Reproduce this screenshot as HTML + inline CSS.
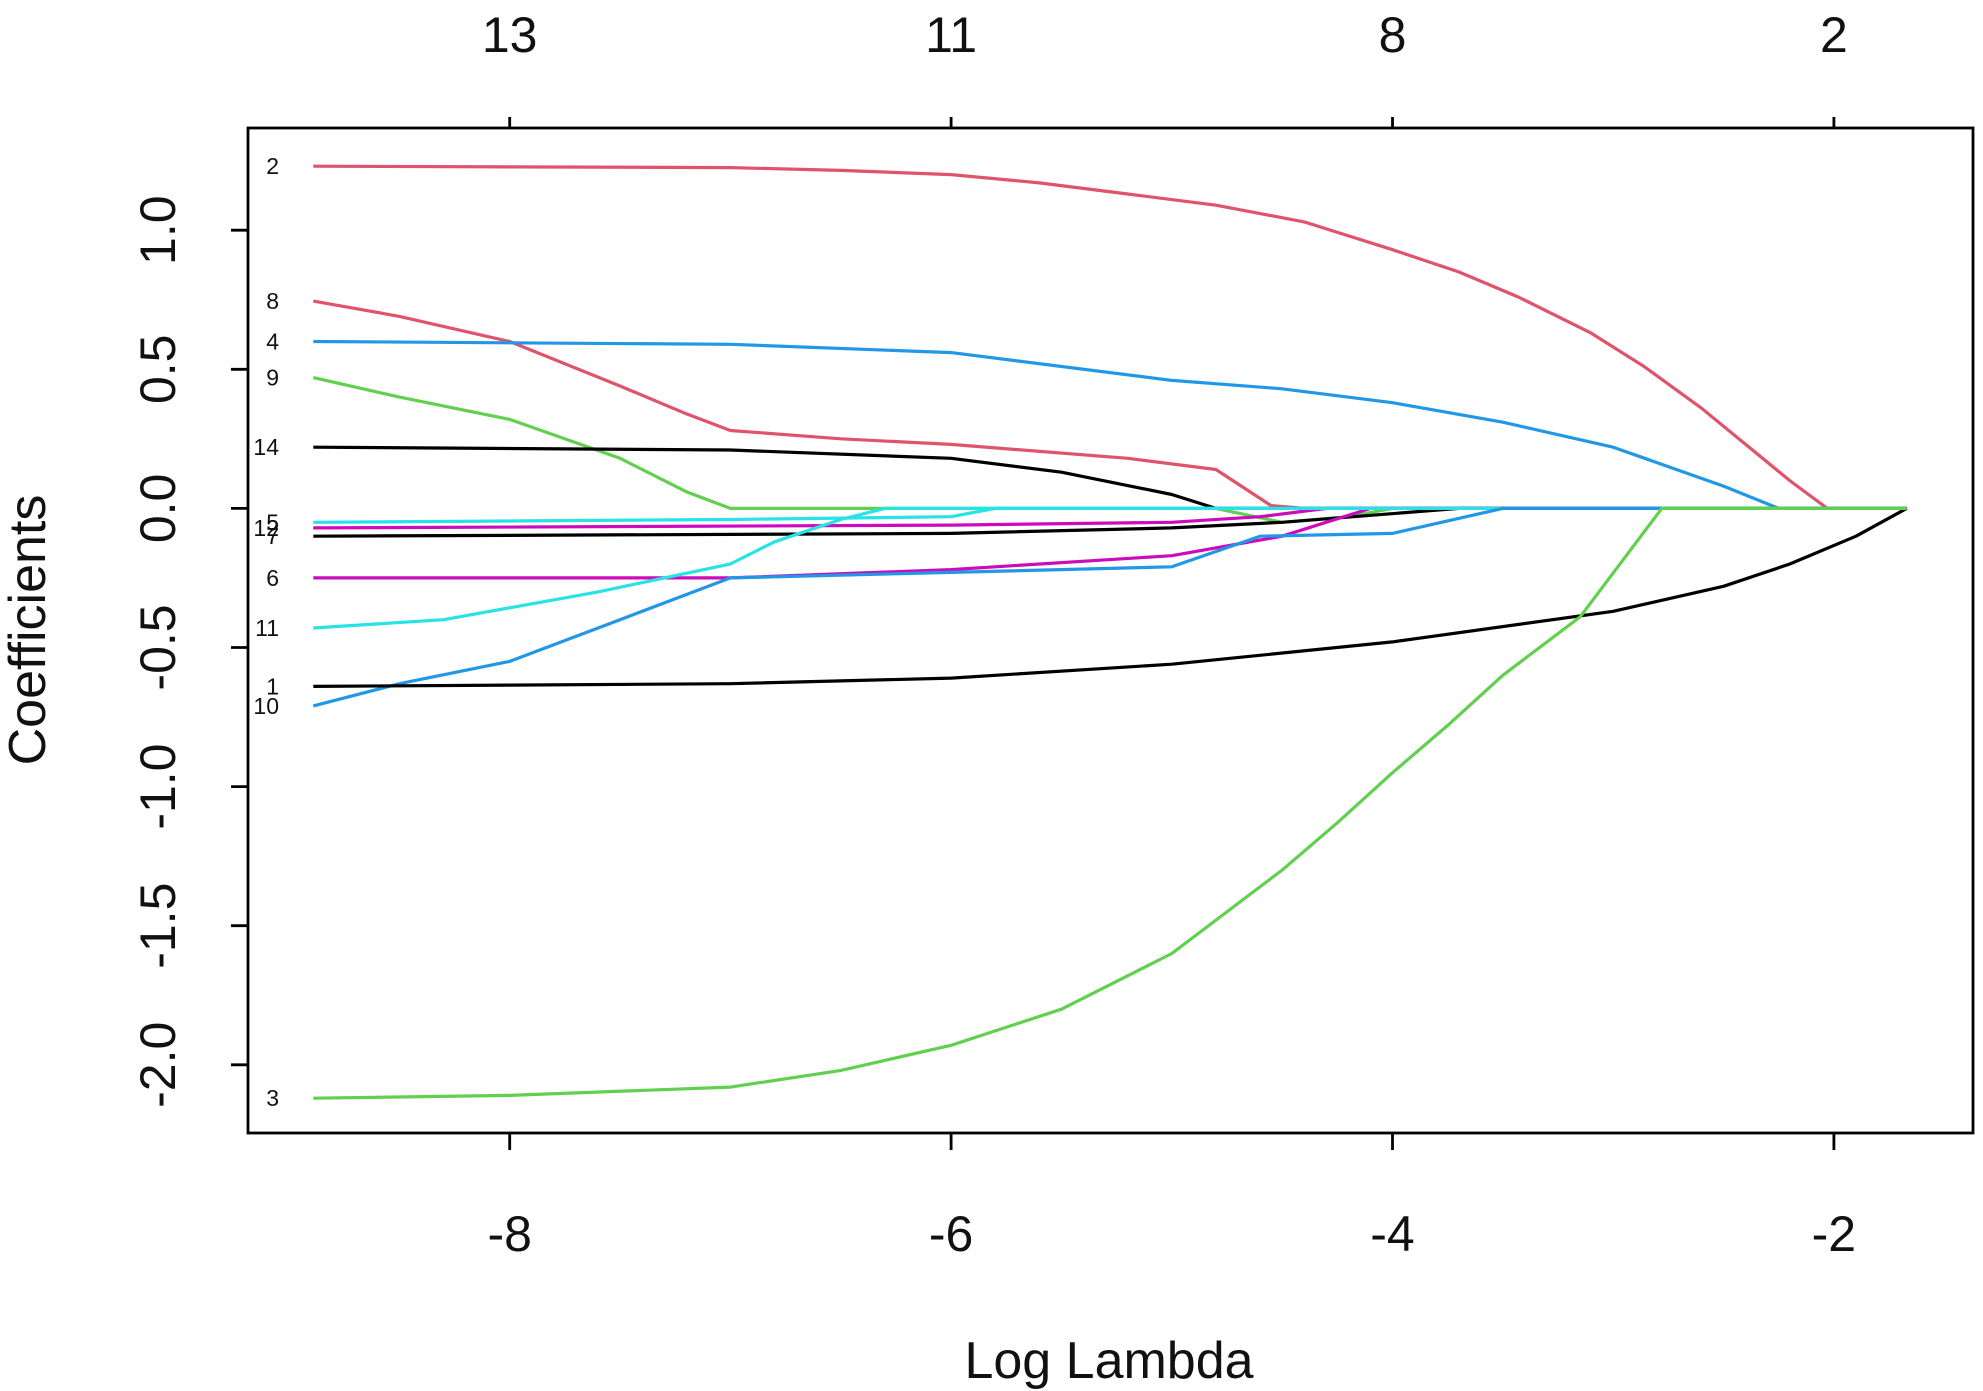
<!DOCTYPE html>
<html><head><meta charset="utf-8"><style>
html,body{margin:0;padding:0;background:#fff}
svg{display:block}
text{font-family:"Liberation Sans",Arial,sans-serif;fill:#111}
</style></head><body>
<svg id="chart" width="1983" height="1391" viewBox="0 0 1983 1391" xmlns="http://www.w3.org/2000/svg">
<rect x="0" y="0" width="1983" height="1391" fill="#fff"/>
<g id="lines"></g>
<g id="axes"></g>
<rect x="248" y="128" width="1725" height="1005" fill="none" stroke="#000" stroke-width="2.8"/>
<text transform="translate(45,630) rotate(-90)" text-anchor="middle" font-size="52">Coefficients</text>
<text x="1109" y="1378" text-anchor="middle" font-size="52">Log Lambda</text>
</svg>
<script>
const xTicks = [-8, -6, -4, -2];
const yTicks = [-2.0, -1.5, -1.0, -0.5, 0.0, 0.5, 1.0];
const topTickLabels = ["13", "11", "8", "2"];
const seriesNames = ["2","8","4","9","14","5","12","7","6","11","10","1","3"];
const seriesColors = ["#DF536B","#DF536B","#2297E6","#61D04F","#000000","#28E2E5","#CD0BBC","#000000","#CD0BBC","#28E2E5","#2297E6","#000000","#61D04F"];
const s2 = [[-8.89,1.23],[-7,1.225],[-6.5,1.215],[-6,1.2],[-5.6,1.17],[-5.2,1.13],[-4.8,1.09],[-4.4,1.03],[-4,0.93],[-3.7,0.85],[-3.43,0.76],[-3.1,0.63],[-2.86,0.51],[-2.6,0.36],[-2.4,0.23],[-2.2,0.1],[-2.03,0],[-1.67,0]];
const s8 = [[-8.89,0.745],[-8.5,0.69],[-8,0.6],[-7.5,0.44],[-7.2,0.34],[-7,0.28],[-6.5,0.25],[-6,0.23],[-5.2,0.18],[-4.8,0.14],[-4.55,0.01],[-4.4,0],[-1.67,0]];
const s4 = [[-8.89,0.6],[-7,0.59],[-6,0.56],[-5,0.46],[-4.5,0.43],[-4,0.38],[-3.5,0.31],[-3,0.22],[-2.5,0.08],[-2.25,0],[-1.67,0]];
const s9 = [[-8.89,0.47],[-8.5,0.4],[-8,0.32],[-7.5,0.18],[-7.2,0.06],[-7,0],[-4.8,0],[-4.5,-0.05],[-4.2,-0.03],[-4,0],[-1.67,0]];
const s14 = [[-8.89,0.22],[-7,0.21],[-6,0.18],[-5.5,0.13],[-5,0.05],[-4.8,0],[-1.67,0]];
const s5 = [[-8.89,-0.05],[-7,-0.04],[-6,-0.03],[-5.8,0],[-1.67,0]];
const s12 = [[-8.89,-0.07],[-6,-0.06],[-5,-0.05],[-4.6,-0.03],[-4.3,0],[-1.67,0]];
const s7 = [[-8.89,-0.1],[-6,-0.09],[-5,-0.07],[-4.5,-0.05],[-3.7,0],[-1.67,0]];
const s6 = [[-8.89,-0.25],[-7,-0.25],[-6,-0.22],[-5,-0.17],[-4.5,-0.1],[-4.1,0],[-1.67,0]];
const s11 = [[-8.89,-0.43],[-8.3,-0.4],[-7.6,-0.3],[-7.0,-0.2],[-6.8,-0.12],[-6.5,-0.04],[-6.3,0],[-1.67,0]];
const s10 = [[-8.89,-0.71],[-8.5,-0.63],[-8,-0.55],[-7.5,-0.4],[-7,-0.25],[-6,-0.23],[-5,-0.21],[-4.6,-0.1],[-4.0,-0.09],[-3.5,0],[-1.67,0]];
const s1 = [[-8.89,-0.64],[-7,-0.63],[-6,-0.61],[-5,-0.56],[-4,-0.48],[-3,-0.37],[-2.5,-0.28],[-2.2,-0.2],[-1.9,-0.1],[-1.67,0]];
const s3 = [[-8.89,-2.12],[-8,-2.11],[-7,-2.08],[-6.5,-2.02],[-6,-1.93],[-5.5,-1.8],[-5,-1.6],[-4.5,-1.3],[-4.25,-1.13],[-4,-0.95],[-3.75,-0.78],[-3.5,-0.6],[-3.15,-0.39],[-2.78,0],[-1.67,0]];
const seriesData = [s2,s8,s4,s9,s14,s5,s12,s7,s6,s11,s10,s1,s3];

const NS = "http://www.w3.org/2000/svg";
function xs(v){ return 509.7 + (v + 8) * 220.7; }
function ys(v){ return 508.4 - v * 278.2; }

const lines = document.getElementById('lines');
seriesData.forEach((pts, i) => {
  const p = document.createElementNS(NS, 'polyline');
  p.setAttribute('points', pts.map(d => xs(d[0]).toFixed(1) + ',' + ys(d[1]).toFixed(1)).join(' '));
  p.setAttribute('fill', 'none');
  p.setAttribute('stroke', seriesColors[i]);
  p.setAttribute('stroke-width', '3.2');
  p.setAttribute('stroke-linejoin', 'round');
  
  
  lines.appendChild(p);
  const t = document.createElementNS(NS, 'text');
  t.setAttribute('x', 279);
  t.setAttribute('y', ys(pts[0][1]) + 8);
  t.setAttribute('text-anchor', 'end');
  t.setAttribute('font-size', '23');
  t.textContent = seriesNames[i];
  
  
  lines.appendChild(t);
});

const axes = document.getElementById('axes');
xTicks.forEach((v, i) => {
  const x = xs(v);
  const b = document.createElementNS(NS, 'line');
  b.setAttribute('x1', x); b.setAttribute('x2', x); b.setAttribute('y1', 1133); b.setAttribute('y2', 1150);
  b.setAttribute('stroke', '#000'); b.setAttribute('stroke-width', '2.8');
  
  
  axes.appendChild(b);
  const bl = document.createElementNS(NS, 'text');
  bl.setAttribute('x', x); bl.setAttribute('y', 1251); bl.setAttribute('text-anchor', 'middle'); bl.setAttribute('font-size', '50');
  bl.textContent = String(v);
  
  
  axes.appendChild(bl);
  const t = document.createElementNS(NS, 'line');
  t.setAttribute('x1', x); t.setAttribute('x2', x); t.setAttribute('y1', 128); t.setAttribute('y2', 117);
  t.setAttribute('stroke', '#000'); t.setAttribute('stroke-width', '2.8');
  
  
  axes.appendChild(t);
  const tl = document.createElementNS(NS, 'text');
  tl.setAttribute('x', x); tl.setAttribute('y', 52); tl.setAttribute('text-anchor', 'middle'); tl.setAttribute('font-size', '50');
  tl.textContent = topTickLabels[i];
  
  
  axes.appendChild(tl);
});
yTicks.forEach(v => {
  const y = ys(v);
  const l = document.createElementNS(NS, 'line');
  l.setAttribute('x1', 248); l.setAttribute('x2', 231); l.setAttribute('y1', y); l.setAttribute('y2', y);
  l.setAttribute('stroke', '#000'); l.setAttribute('stroke-width', '2.8');
  
  
  axes.appendChild(l);
  const t = document.createElementNS(NS, 'text');
  t.setAttribute('transform', 'translate(175,' + y + ') rotate(-90)');
  t.setAttribute('text-anchor', 'middle'); t.setAttribute('font-size', '50');
  t.textContent = v.toFixed(1);
  
  
  axes.appendChild(t);
});
</script>
</body></html>
